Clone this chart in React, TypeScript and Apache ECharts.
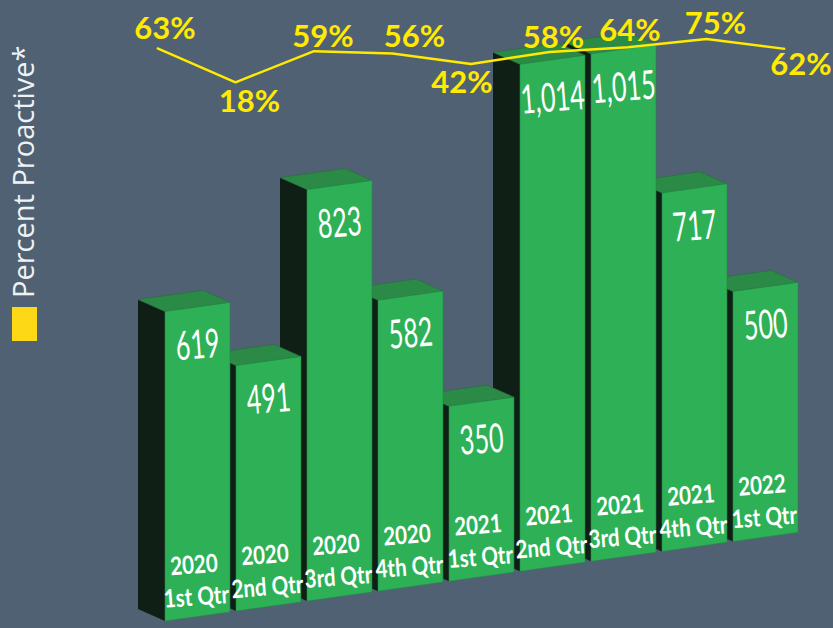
import React, { useEffect, useRef } from "react";
import * as echarts from "echarts";

// ---- Data ----
const years = ["2020", "2020", "2020", "2020", "2021", "2021", "2021", "2021", "2022"];
const quarters = ["1st Qtr", "2nd Qtr", "3rd Qtr", "4th Qtr", "1st Qtr", "2nd Qtr", "3rd Qtr", "4th Qtr", "1st Qtr"];
const counts = [619, 491, 823, 582, 350, 1014, 1015, 717, 500];
const percentProactive = [63, 18, 59, 56, 42, 58, 64, 75, 62];
const legendLabel = "Percent Proactive*";

// ---- Layout / style (not data) ----
const pctLabelOffsets: number[][] = [
  [8, -21], [14, 18], [9, -16], [22, -18], [-9, 17], [4, -16], [2, -18], [9, -17], [16, 14],
];
const SHEAR = 0.14;
const DX = -27;
const DY = -12;
const BG = "#4f6172";
const FRONT = "#2eb156";
const TOP = "#2c8a47";
const SIDE = "#0f1f16";
const YELLOW = "#ffea00";

export default function App() {
  const ref = useRef<HTMLDivElement>(null);

  useEffect(() => {
    if (!ref.current) return;
    const chart = echarts.init(ref.current, null, { renderer: "svg" });
    const n = counts.length;
    const categories = years.map((y, i) => y + "\n" + quarters[i]);

    const option: any = {
      animation: false,
      backgroundColor: BG,
      grid: [
        { left: 162, right: 32, top: 21, bottom: 7 },
        { left: 157, right: 48, top: 20, bottom: 532 },
      ],
      xAxis: [
        { type: "category", gridIndex: 0, data: categories, show: false },
        { type: "category", gridIndex: 1, data: categories, show: false, boundaryGap: false },
      ],
      yAxis: [
        { type: "value", gridIndex: 0, min: 0, max: 1200, show: false },
        { type: "value", gridIndex: 1, min: 0, max: 100, show: false },
      ],
      graphic: [
        { type: "rect", left: 12, top: 307, shape: { width: 25, height: 34 }, style: { fill: "#fdd817" } },
        {
          type: "text",
          x: 22,
          y: 298,
          rotation: Math.PI / 2,
          style: {
            text: legendLabel,
            fill: "#eef2f4",
            fontSize: 29,
            fontFamily: "'Open Sans', Lato, sans-serif",
            align: "left",
            verticalAlign: "middle",
          },
        },
      ],
      series: [
        {
          type: "custom",
          xAxisIndex: 0,
          yAxisIndex: 0,
          data: counts.map((v, i) => [i, v]),
          encode: { x: 0, y: 1 },
          renderItem: (params: any, api: any) => {
            const i = api.value(0) as number;
            const v = api.value(1) as number;
            const band = (api.size([1, 0]) as number[])[0];
            const w = band * 0.915;
            const topPt = api.coord([i, v]);
            const botPt = api.coord([i, 0]);
            const x0 = api.coord([0, 0])[0] - w / 2;
            const sh = (x: number, y: number) => [x, y - SHEAR * (x - x0)];
            const xc = topPt[0];
            const xl = xc - w / 2;
            const xr = xc + w / 2;
            const FLt = sh(xl, topPt[1]);
            const FRt = sh(xr, topPt[1]);
            const FLb = sh(xl, botPt[1]);
            const FRb = sh(xr, botPt[1]);
            const off = (p: number[]) => [p[0] + DX, p[1] + DY];
            const z = (n - i) * 10;
            const ct = sh(xc, topPt[1]);
            const cb = sh(xc, botPt[1]);
            const rot = Math.atan(SHEAR) * 0.55;
            return {
              type: "group",
              children: [
                {
                  type: "polygon",
                  z2: z,
                  shape: { points: [FLt, off(FLt), off(FLb), FLb] },
                  style: { fill: SIDE },
                },
                {
                  type: "polygon",
                  z2: z + 1,
                  shape: { points: [FLt, FRt, off(FRt), off(FLt)] },
                  style: { fill: TOP, stroke: "#23703a", lineWidth: 0.6 },
                },
                {
                  type: "polygon",
                  z2: z + 2,
                  shape: { points: [FLb, FRb, FRt, FLt] },
                  style: { fill: FRONT, stroke: "#238c44", lineWidth: 0.6 },
                },
                {
                  type: "text",
                  z2: z + 3,
                  x: ct[0],
                  y: ct[1] + 36,
                  rotation: rot,
                  scaleX: 0.63,
                  style: {
                    text: v.toLocaleString("en-US"),
                    fill: "#ffffff",
                    fontSize: 40,
                    fontFamily: "Lato, 'Open Sans', sans-serif",
                    align: "center",
                    verticalAlign: "middle",
                  },
                },
                {
                  type: "text",
                  z2: z + 3,
                  x: cb[0],
                  y: cb[1] - 5,
                  rotation: rot,
                  scaleX: 0.82,
                  style: {
                    text: years[i] + "\n" + quarters[i],
                    fill: "#ffffff",
                    fontSize: 25,
                    fontWeight: "bold",
                    lineHeight: 32,
                    fontFamily: "Lato, 'Open Sans', sans-serif",
                    align: "center",
                    verticalAlign: "bottom",
                  },
                },
              ],
            };
          },
        },
        {
          type: "line",
          xAxisIndex: 1,
          yAxisIndex: 1,
          z: 10,
          data: percentProactive.map((p, i) => ({ value: p, label: { offset: pctLabelOffsets[i] } })),
          symbol: "circle",
          symbolSize: 1,
          itemStyle: { color: YELLOW },
          lineStyle: { color: YELLOW, width: 2.5 },
          label: {
            show: true,
            position: "inside",
            formatter: "{c}%",
            color: YELLOW,
            fontSize: 31,
            fontWeight: "bold",
            fontFamily: "Lato, 'Open Sans', sans-serif",
            align: "center",
            verticalAlign: "middle",
          },
        },
      ],
    };
    chart.setOption(option);
    return () => chart.dispose();
  }, []);

  return (
    <div
      ref={ref}
      style={{ position: "absolute", left: 0, top: 0, width: 833, height: 628, background: BG }}
    />
  );
}
